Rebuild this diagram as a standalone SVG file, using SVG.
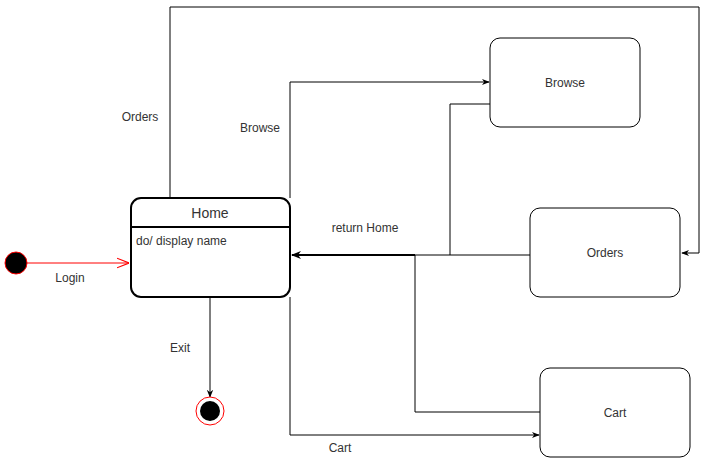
<svg xmlns="http://www.w3.org/2000/svg" width="709" height="458" viewBox="0 0 709 458">
<style>
text{font-family:"Liberation Sans",Arial,sans-serif;font-size:12px;fill:#333}
.st{fill:#fff;stroke:#000;stroke-width:1}
.e{fill:none;stroke:#000;stroke-width:1}
</style>
<defs>
<marker id="a" viewBox="0 0 10 10" refX="9" refY="5" markerWidth="8" markerHeight="8" markerUnits="userSpaceOnUse" orient="auto"><path d="M0,1 L10,5 L0,9 L3,5 Z" fill="#000"/></marker>
<marker id="b" viewBox="0 0 10 10" refX="9" refY="5" markerWidth="10" markerHeight="10" markerUnits="userSpaceOnUse" orient="auto"><path d="M0,1 L10,5 L0,9 L3,5 Z" fill="#000"/></marker>
<marker id="r" viewBox="0 0 10 10" refX="10" refY="5" markerWidth="12" markerHeight="12" markerUnits="userSpaceOnUse" orient="auto"><path d="M0,1 L10,5 L0,9" fill="none" stroke="#f00" stroke-width="1"/></marker>
</defs>
<rect width="709" height="458" fill="#fff"/>
<g id="connectors">
<path class="e" d="M170,198 V7 H699 V253 H682" marker-end="url(#a)"/>
<path class="e" d="M290,198 V82 H489" marker-end="url(#a)"/>
<path class="e" d="M490,104 H450 V255"/>
<path d="M530,255 H415" fill="none" stroke="#000" stroke-width="1"/>
<path d="M415,255 H292" fill="none" stroke="#000" stroke-width="2" marker-end="url(#b)"/>
<path class="e" d="M540,412 H415 V255"/>
<path class="e" d="M290,297 V435 H539" marker-end="url(#a)"/>
<path class="e" d="M210,297 V397" marker-end="url(#a)"/>
<path d="M27,263 H129" fill="none" stroke="#f00" stroke-width="1" marker-end="url(#r)"/>
<text x="140" y="121" text-anchor="middle">Orders</text>
<text x="260" y="132" text-anchor="middle">Browse</text>
<text x="365" y="232" text-anchor="middle">return Home</text>
<text x="180" y="352" text-anchor="middle">Exit</text>
<text x="340" y="452" text-anchor="middle">Cart</text>
<text x="70" y="282" text-anchor="middle">Login</text>
</g>
<g id="initial"><circle cx="16" cy="263" r="11" fill="#000" stroke="#f00" stroke-width="1"/></g>
<g id="final"><circle cx="210" cy="411" r="14" fill="#fff" stroke="#f00" stroke-width="1"/><circle cx="210" cy="411" r="10" fill="#000"/></g>
<g id="home">
<rect x="131" y="198" width="159" height="99" rx="10" fill="#fff" stroke="#000" stroke-width="2"/>
<line x1="131" y1="227" x2="290" y2="227" stroke="#000" stroke-width="2"/>
<text x="210" y="218" text-anchor="middle" style="font-size:14px">Home</text>
<text x="136" y="245">do/ display name</text>
</g>
<g id="browse"><rect class="st" x="490" y="38" width="150" height="89" rx="10"/><text x="565" y="87" text-anchor="middle">Browse</text></g>
<g id="orders"><rect class="st" x="530" y="208" width="150" height="89" rx="10"/><text x="605" y="257" text-anchor="middle">Orders</text></g>
<g id="cart"><rect class="st" x="540" y="368" width="150" height="89" rx="10"/><text x="615" y="417" text-anchor="middle">Cart</text></g>
</svg>
